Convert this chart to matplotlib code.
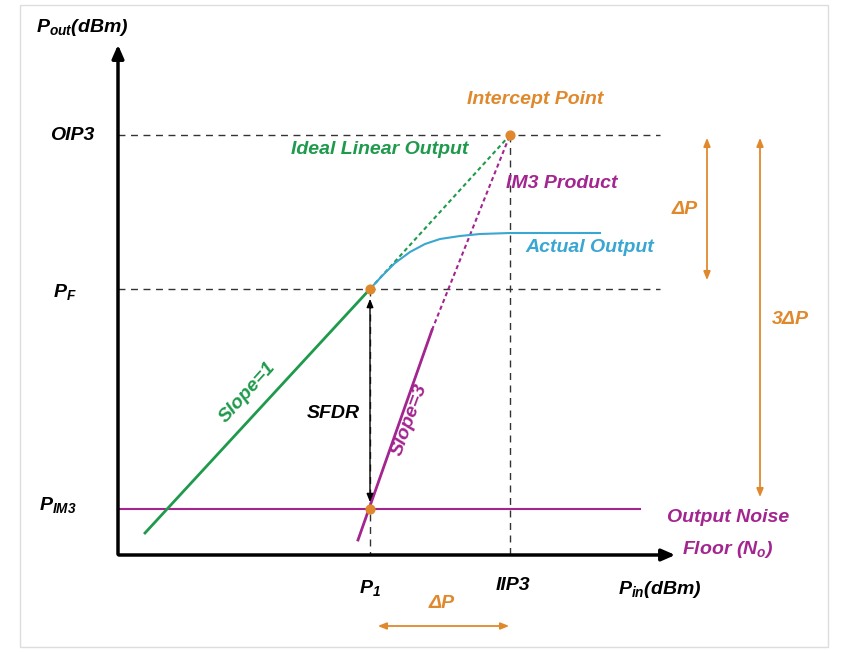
import numpy as np
import matplotlib.pyplot as plt
from matplotlib.patches import Rectangle

plt.rcParams["mathtext.fontset"] = "custom"
plt.rcParams["mathtext.it"] = "Liberation Sans:italic:bold"
plt.rcParams["mathtext.rm"] = "Liberation Sans:italic:bold"

GREEN = "#1f9a4c"
MAGENTA = "#a3258f"
ORANGE = "#e0892c"
BLUE = "#3aa6d2"

# diagram key points (pixel space of the original drawing)
p1_x, iip3_x = 370, 510
oip3_y, pf_y, pim3_y = 135, 289, 509
ideal_x = [145, 370, 510]
ideal_y = [533, 289, 135]
im3_x = [358, 432, 510]
im3_y = [540, 330, 135]
actual_x = [370, 382, 395, 410, 425, 440, 460, 480, 510, 550, 600]
actual_y = [289, 276, 263, 252, 244, 239, 236, 234, 233, 233, 233]

fig = plt.figure(figsize=(8.54, 6.54), dpi=100)
ax = fig.add_axes([0, 0, 1, 1])
ax.set_xlim(0, 854)
ax.set_ylim(654, 0)
ax.axis("off")
ax.add_patch(Rectangle((20, 5), 808, 642, fill=False, ec="#dddddd", lw=1))

txt = dict(fontsize=14, fontweight="bold", fontstyle="italic", family="Liberation Sans")

# axes arrows
ax.annotate("", xy=(118, 42), xytext=(118, 557),
            arrowprops=dict(arrowstyle="-|>,head_width=0.35,head_length=0.8", lw=2.5, color="k"))
ax.annotate("", xy=(678, 555), xytext=(116, 555),
            arrowprops=dict(arrowstyle="-|>,head_width=0.35,head_length=0.8", lw=2.5, color="k"))

# dashed guides
for y in (oip3_y, pf_y):
    ax.plot([118, 660], [y, y], ls=(0, (5, 4)), color="#333333", lw=1)
ax.plot([p1_x, p1_x], [pf_y, 555], ls=(0, (5, 4)), color="#333333", lw=1)
ax.plot([iip3_x, iip3_x], [oip3_y, 555], ls=(0, (5, 4)), color="#333333", lw=1)

# noise floor
ax.plot([118, 640], [pim3_y, pim3_y], color=MAGENTA, lw=1.5)

# ideal linear
ax.plot(ideal_x[:2], ideal_y[:2], color=GREEN, lw=2)
ax.plot(ideal_x[1:], ideal_y[1:], color=GREEN, lw=1.5, ls=(0, (2, 1.5)))
# IM3
ax.plot(im3_x[:2], im3_y[:2], color=MAGENTA, lw=2)
ax.plot(im3_x[1:], im3_y[1:], color=MAGENTA, lw=1.5, ls=(0, (2, 1.5)))
# actual
ax.plot(actual_x, actual_y, color=BLUE, lw=1.5)

ax.scatter([p1_x, p1_x, iip3_x], [pf_y, pim3_y, oip3_y], s=40, color=ORANGE, zorder=5)

# SFDR arrow
ax.annotate("", xy=(370, 296), xytext=(370, 505),
            arrowprops=dict(arrowstyle="<|-|>,head_width=0.2,head_length=0.5", lw=1, color="k"))
ax.text(333, 413, "SFDR", ha="center", va="center", color="k", **txt)

# orange arrows
arr = dict(arrowstyle="<|-|>,head_width=0.2,head_length=0.5", lw=1.3, color=ORANGE)
ax.annotate("", xy=(707, 135), xytext=(707, 283), arrowprops=arr)
ax.annotate("", xy=(760, 135), xytext=(760, 500), arrowprops=arr)
ax.annotate("", xy=(375, 626), xytext=(512, 626), arrowprops=arr)
ax.text(685, 210, "ΔP", ha="center", va="center", color=ORANGE, **txt)
ax.text(790, 320, "3ΔP", ha="center", va="center", color=ORANGE, **txt)
ax.text(442, 603, "ΔP", ha="center", va="center", color=ORANGE, **txt)

# axis labels
ax.text(36, 28, r"P$_{out}$(dBm)", ha="left", va="center", color="k", **txt)
ax.text(660, 590, r"P$_{in}$(dBm)", ha="center", va="center", color="k", **txt)
ax.text(72, 135, "OIP3", ha="center", va="center", color="k", **txt)
ax.text(65, 292, r"P$_F$", ha="center", va="center", color="k", **txt)
ax.text(58, 505, r"P$_{IM3}$", ha="center", va="center", color="k", **txt)
ax.text(370, 588, r"P$_1$", ha="center", va="center", color="k", **txt)
ax.text(513, 585, "IIP3", ha="center", va="center", color="k", **txt)

ax.text(535, 100, "Intercept Point", ha="center", va="center", color=ORANGE, **txt)
ax.text(380, 150, "Ideal Linear Output", ha="center", va="center", color=GREEN, **txt)
ax.text(562, 183, "IM3 Product", ha="center", va="center", color=MAGENTA, **txt)
ax.text(590, 248, "Actual Output", ha="center", va="center", color=BLUE, **txt)
ax.text(728, 518, "Output Noise", ha="center", va="center", color=MAGENTA, **txt)
ax.text(728, 549, r"Floor (N$_o$)", ha="center", va="center", color=MAGENTA, **txt)
ax.text(248, 392, "Slope=1", ha="center", va="center", rotation=48, color=GREEN, **txt)
ax.text(410, 420, "Slope=3", ha="center", va="center", rotation=70, color=MAGENTA, **txt)

fig.savefig("out.png", dpi=100)
